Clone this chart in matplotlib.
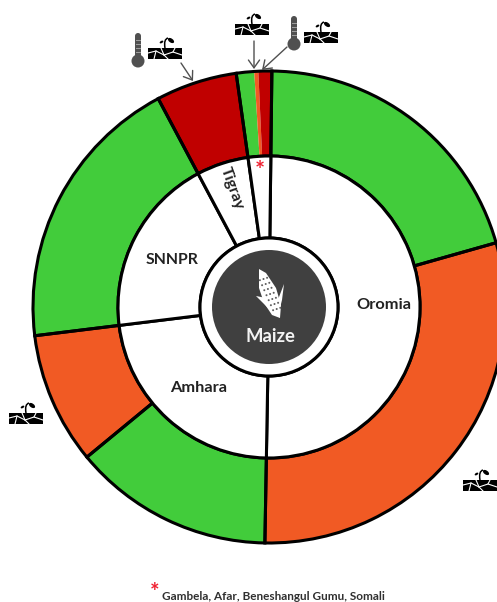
import matplotlib
matplotlib.use("Agg")
import matplotlib.pyplot as plt
from matplotlib.patches import Circle, Rectangle, Polygon, Ellipse, FancyArrowPatch
from matplotlib.path import Path
from matplotlib.patches import PathPatch

plt.rcParams['font.family'] = ['Lato', 'DejaVu Sans']

# shares in degrees, clockwise from the top
regions = ["Oromia", "Amhara", "SNNPR", "Tigray", "Others"]
region_shares = [180.3, 82.0, 69.0, 20.0, 8.7]
outer_shares = [73.5, 106.8, 49.5, 32.5, 69.0, 20.0, 4.4, 1.0, 3.3]
GREEN, ORANGE, RED = "#42CC3B", "#F15A24", "#C00000"
outer_colors = [GREEN, ORANGE, GREEN, ORANGE, GREEN, RED, GREEN, ORANGE, RED]
outline_shares = [73.5, 106.8, 49.5, 32.5, 69.0, 20.0, 8.7]
footnote = "Gambela, Afar, Beneshangul Gumu, Somali"

W, H = 497, 602
CX, CY = 269, 307
R_OUT, R_MID, R_HUB, R_DARK = 236, 151, 69, 57
START = -90 + 0.7   # the y axis runs downwards, so this is clockwise on screen
LW = 2.2
DARK = "#404040"

fig = plt.figure(figsize=(W / 100, H / 100), dpi=100)
ax = fig.add_axes([0, 0, 1, 1])


def ring(values, radius, width, colors=None, edge="none", lw=0, z=1):
    wedges, _ = ax.pie(values, radius=radius, center=(CX, CY), startangle=START,
                       counterclock=True, colors=colors, frame=True,
                       wedgeprops=dict(width=width, edgecolor=edge, linewidth=lw))
    for w in wedges:
        w.set_zorder(z)
        if colors is None:
            w.set_facecolor("none")
    return wedges


ring(outer_shares, R_OUT, R_OUT - R_MID, outer_colors, z=1)
ring(outline_shares, R_OUT, R_OUT - R_MID, None, "black", LW, z=2)
ring(region_shares, R_MID, R_MID - R_HUB, ["white"] * len(region_shares), "black", LW, z=2)

ax.add_patch(Circle((CX, CY), R_HUB, fc="white", ec="black", lw=LW, zorder=3))
ax.add_patch(Circle((CX, CY), R_DARK, fc=DARK, ec="none", zorder=4))

ax.set_xlim(0, W)
ax.set_ylim(H, 0)
ax.set_aspect("equal")
ax.axis("off")

# maize icon in the hub
ax.add_patch(Polygon([(259, 269), (266, 273), (276, 288), (281, 305), (280, 318),
                      (272, 315), (264, 303), (259, 288)], fc="white", ec="none", zorder=5))
ax.add_patch(Polygon([(256, 296), (266, 298), (280, 318), (268, 308)], fc="white", ec="none", zorder=5))
ax.add_patch(Polygon([(284, 284), (279, 297), (278, 316), (282, 300)], fc="white", ec="none", zorder=5))
for i in range(7):
    for j in range(3):
        px = 263.5 + i * 2.2 + (j - 1) * 3.6
        py = 279 + i * 5.0 - (j - 1) * 1.2
        ax.add_patch(Circle((px, py), 1.0, fc="#606060", ec="none", zorder=6))


def soil(x0, y0):
    ax.add_patch(Rectangle((x0, y0), 34, 11, fc="black", ec="none", zorder=5))
    cracks = [[(x0, y0 + 5), (x0 + 8, y0 + 3), (x0 + 16, y0 + 7), (x0 + 25, y0 + 4), (x0 + 34, y0 + 7)],
              [(x0 + 8, y0 + 3), (x0 + 6, y0 + 11)],
              [(x0 + 16, y0 + 7), (x0 + 20, y0 + 11)],
              [(x0 + 25, y0 + 4), (x0 + 27, y0)],
              [(x0 + 13, y0), (x0 + 16, y0 + 7)]]
    for c in cracks:
        ax.plot(*zip(*c), color="white", lw=0.8, zorder=6)
    sx = x0 + 17
    stem = Path([(sx, y0), (sx - 1, y0 - 6), (sx, y0 - 9), (sx + 3, y0 - 10)],
                [Path.MOVETO, Path.CURVE4, Path.CURVE4, Path.CURVE4])
    ax.add_patch(PathPatch(stem, fc="none", ec="black", lw=1.1, zorder=6))
    ax.add_patch(Ellipse((sx + 6, y0 - 7.5), 7, 4, angle=35, fc="black", ec="none", zorder=6))
    ax.add_patch(Ellipse((sx - 3.5, y0 - 6), 4, 2.2, angle=-30, fc="black", ec="none", zorder=6))


def thermometer(x, top):
    ax.add_patch(Rectangle((x - 3, top), 6, 24, fc="#505050", ec="none", zorder=5))
    ax.add_patch(Circle((x, top), 3, fc="#505050", ec="none", zorder=5))
    ax.add_patch(Circle((x, top + 25), 6.5, fc="#505050", ec="none", zorder=5))
    for k in range(4):
        ax.plot([x - 2, x + 2], [top + 4 + k * 4] * 2, color="#A0A0A0", lw=0.7, zorder=6)


for sx0, sy0 in [(148, 48), (235, 24), (304, 32), (9, 413), (463, 480)]:
    soil(sx0, sy0)
thermometer(138, 36)
thermometer(294, 19)

for a, b in [((181, 63), (193, 81)), ((254, 41), (254, 69)), ((287, 47), (262, 70))]:
    ax.add_patch(FancyArrowPatch(a, b, arrowstyle="->,head_length=3.5,head_width=2.5",
                                 color="#505050", lw=1.0, shrinkA=0, shrinkB=0,
                                 mutation_scale=1.6, zorder=7))

tk = dict(fontweight="bold", color="#222222", ha="center", va="center", zorder=8)
ax.text(384, 305, regions[0], fontsize=11.8, **tk)
ax.text(199, 388, regions[1], fontsize=11.8, **tk)
ax.text(172, 260, regions[2], fontsize=11.3, **tk)
ax.text(232, 188, regions[3], fontsize=11.3, rotation=-70, **tk)
ax.text(270, 336, "Maize", fontsize=13.3, fontweight="bold", color="#F2F2F2",
        ha="center", va="center", zorder=8)
ax.text(259.5, 171, "*", fontsize=17, fontweight="bold", color="#F02030",
        ha="center", va="center", zorder=8)
ax.text(155, 592, "*", fontsize=16, fontweight="bold", color="#F02030",
        ha="center", va="center", zorder=8)
ax.text(162, 597, footnote, fontsize=8.5, fontweight="bold", color="#303030",
        ha="left", va="center", zorder=8)

fig.savefig("out.png", dpi=100)
